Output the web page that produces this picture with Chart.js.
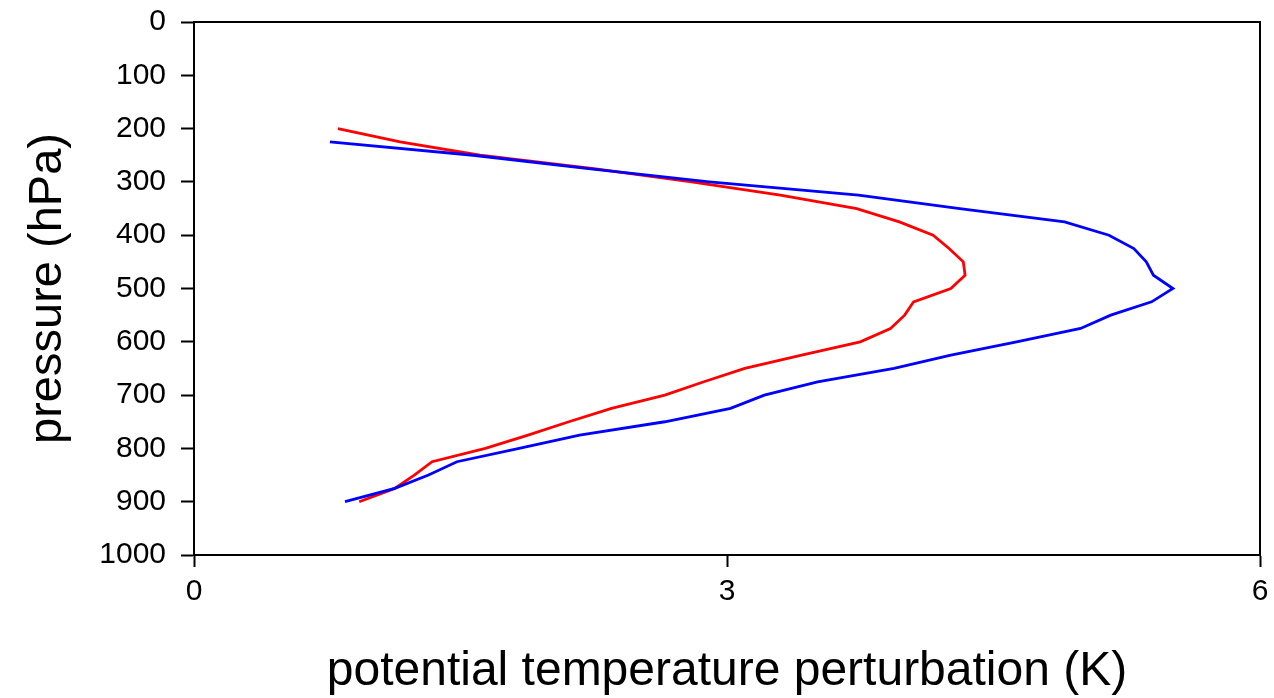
<!DOCTYPE html>
<html>
<head>
<meta charset="utf-8">
<script src="https://cdn.jsdelivr.net/npm/chart.js@4.4.1/dist/chart.umd.min.js"></script>
<style>
  html, body { margin: 0; padding: 0; background: #fff; }
  #wrap { width: 1274px; height: 698px; }
</style>
</head>
<body>
<div id="wrap"><canvas id="chart" width="1274" height="698"></canvas></div>
<script>
// pressure levels (hPa)
const redLevels = [200, 225, 250, 275, 300, 325, 350, 375, 400, 425, 450, 475, 500, 525, 550,
  575, 600, 625, 650, 675, 700, 725, 750, 775, 800, 825, 850, 875, 900];
const blueLevels = [225, 250, 275, 300, 325, 350, 375, 400, 425, 450, 475, 500, 525, 550,
  575, 600, 625, 650, 675, 700, 725, 750, 775, 800, 825, 850, 875, 900];

// potential temperature perturbation (K)
const redTheta = [0.81, 1.16, 1.61, 2.25, 2.80, 3.30, 3.73, 3.97, 4.16, 4.25, 4.33, 4.34, 4.26, 4.05, 4.00,
  3.92, 3.75, 3.42, 3.10, 2.87, 2.65, 2.35, 2.11, 1.88, 1.64, 1.34, 1.24, 1.13, 0.93];
const blueTheta = [0.765, 1.57, 2.22, 2.90, 3.74, 4.31, 4.90, 5.15, 5.29, 5.36, 5.40, 5.51, 5.39, 5.16,
  4.99, 4.63, 4.26, 3.94, 3.51, 3.21, 3.02, 2.65, 2.17, 1.83, 1.48, 1.32, 1.13, 0.85];

const xTicks = [0, 3, 6];
const yTicks = [0, 100, 200, 300, 400, 500, 600, 700, 800, 900, 1000];

const toPoints = (xs, ys) => xs.map((x, i) => ({ x: x, y: ys[i] }));

// marco superior y derecho del área de trazado
const frame = {
  id: 'frame',
  afterDraw(chart) {
    const { ctx, chartArea: a } = chart;
    ctx.save();
    ctx.strokeStyle = '#000';
    ctx.lineWidth = 2;
    ctx.beginPath();
    ctx.moveTo(a.left, a.top);
    ctx.lineTo(a.right, a.top);
    ctx.lineTo(a.right, a.bottom);
    ctx.stroke();
    ctx.restore();
  }
};

const font = 'Liberation Sans, Arial, Helvetica, sans-serif';

new Chart(document.getElementById('chart').getContext('2d'), {
  type: 'line',
  data: {
    datasets: [
      {
        data: toPoints(blueTheta, blueLevels),
        borderColor: '#0000ff',
        borderWidth: 2.8,
        pointRadius: 0,
        tension: 0,
        fill: false
      },
      {
        data: toPoints(redTheta, redLevels),
        borderColor: '#ff0000',
        borderWidth: 2.8,
        pointRadius: 0,
        tension: 0,
        fill: false
      }
    ]
  },
  options: {
    responsive: false,
    animation: false,
    layout: { padding: { top: 22, right: 14, left: 0, bottom: 0 } },
    plugins: { legend: { display: false }, tooltip: { enabled: false } },
    scales: {
      x: {
        type: 'linear',
        min: 0,
        max: 6,
        afterBuildTicks: s => { s.ticks = xTicks.map(v => ({ value: v })); },
        afterFit: s => { s.height = 698 - 555; s.paddingLeft = 0; s.paddingRight = 0; },
        grid: { drawOnChartArea: false, drawTicks: true, tickLength: 12, tickColor: '#000', tickWidth: 2 },
        border: { color: '#000', width: 2 },
        ticks: { color: '#000', font: { family: font, size: 30 }, padding: 7, maxRotation: 0, callback: v => String(v) },
        title: {
          display: true,
          text: 'potential temperature perturbation (K)',
          color: '#000',
          font: { family: font, size: 48 },
          padding: { top: 0, bottom: -3 }
        }
      },
      y: {
        type: 'linear',
        min: 0,
        max: 1000,
        reverse: true,
        afterBuildTicks: s => { s.ticks = yTicks.map(v => ({ value: v })); },
        afterFit: s => { s.width = 194; s.paddingTop = 0; s.paddingBottom = 0; },
        grid: { drawOnChartArea: false, drawTicks: true, tickLength: 13, tickColor: '#000', tickWidth: 2 },
        border: { color: '#000', width: 2 },
        ticks: { color: '#000', font: { family: font, size: 30 }, padding: 15, callback: v => String(v) },
        title: {
          display: true,
          text: 'pressure (hPa)',
          color: '#000',
          font: { family: font, size: 47 },
          padding: { top: 20, bottom: 0 }
        }
      }
    }
  },
  plugins: [frame]
});
</script>
</body>
</html>
